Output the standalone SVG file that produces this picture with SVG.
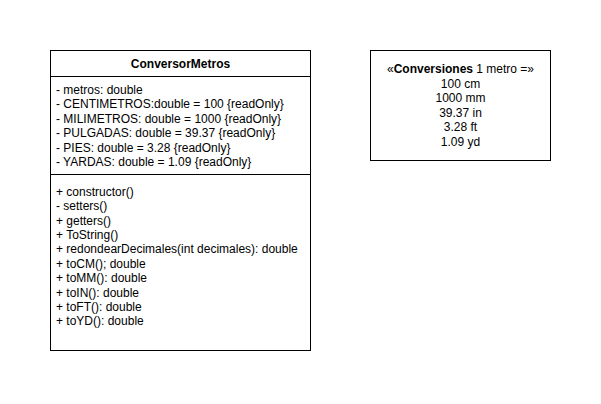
<svg xmlns="http://www.w3.org/2000/svg" width="601" height="404" viewBox="0 0 601 404">
  <style>
    .box { fill: #ffffff; stroke: #000000; stroke-width: 1; }
    .sep { stroke: #000000; stroke-width: 1; fill: none; }
    text { font-family: "Liberation Sans", Arial, sans-serif; font-size: 12px; fill: #000000; }
    .title { font-weight: bold; text-anchor: middle; }
    .mid { text-anchor: middle; }
  </style>
  <rect width="601" height="404" fill="#ffffff"/>

  <!-- Class ConversorMetros -->
  <g id="ConversorMetros">
    <rect class="box" x="50.5" y="50.5" width="260" height="300"/>
    <line class="sep" x1="50.5" y1="76.5" x2="310.5" y2="76.5"/>
    <line class="sep" x1="50.5" y1="174.5" x2="310.5" y2="174.5"/>
    <text class="title" x="180.5" y="68">ConversorMetros</text>
    <text x="56" y="94">- metros: double</text>
    <text x="56" y="108.4">- CENTIMETROS:double = 100 {readOnly}</text>
    <text x="56" y="122.8">- MILIMETROS: double = 1000 {readOnly}</text>
    <text x="56" y="137.2">- PULGADAS: double = 39.37 {readOnly}</text>
    <text x="56" y="151.6">- PIES: double = 3.28 {readOnly}</text>
    <text x="56" y="166">- YARDAS: double = 1.09 {readOnly}</text>
    <text x="56" y="195.8">+ constructor()</text>
    <text x="56" y="210.2">- setters()</text>
    <text x="56" y="224.6">+ getters()</text>
    <text x="56" y="239">+ ToString()</text>
    <text x="56" y="253.4">+ redondearDecimales(int decimales): double</text>
    <text x="56" y="267.8">+ toCM(); double</text>
    <text x="56" y="282.2">+ toMM(): double</text>
    <text x="56" y="296.6">+ toIN(): double</text>
    <text x="56" y="311">+ toFT(): double</text>
    <text x="56" y="325.4">+ toYD(): double</text>
  </g>

  <!-- Conversions note -->
  <g id="Conversiones">
    <rect class="box" x="370.5" y="50.5" width="180" height="110"/>
    <text class="mid" x="460.5" y="73">«<tspan font-weight="bold">Conversiones</tspan> 1 metro =»</text>
    <text class="mid" x="460.5" y="88">100 cm</text>
    <text class="mid" x="460.5" y="102">1000 mm</text>
    <text class="mid" x="460.5" y="116.5">39.37 in</text>
    <text class="mid" x="460.5" y="131">3.28 ft</text>
    <text class="mid" x="460.5" y="145.5">1.09 yd</text>
  </g>

  <g id="connectors"/>
</svg>
